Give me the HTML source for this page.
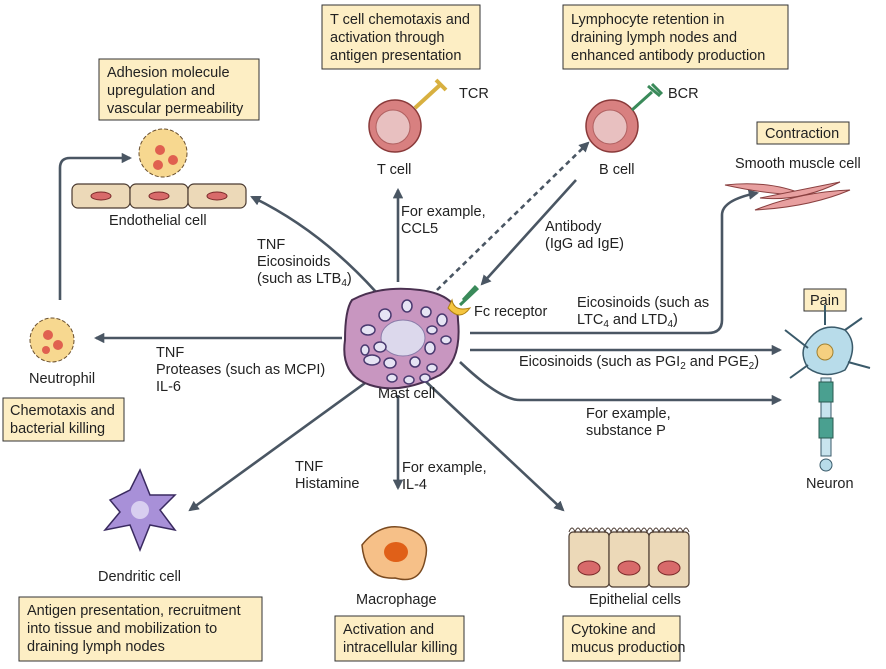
<!DOCTYPE html>
<html><head><meta charset="utf-8"><style>
body{margin:0;background:#fff;width:886px;height:669px;overflow:hidden}
svg{display:block}
text{font-family:"Liberation Sans",sans-serif;font-size:14.5px;fill:#222}
.box{fill:#fdeec4;stroke:#333;stroke-width:1}
.ar{stroke:#4a5663;stroke-width:2.6;fill:none}
</style></head><body>
<svg width="886" height="669" viewBox="0 0 886 669">
<defs>
<marker id="a" viewBox="0 0 10 10" refX="8" refY="5" markerWidth="4" markerHeight="4" orient="auto"><path d="M0,0L10,5L0,10z" fill="#4a5663"/></marker>
</defs>
<rect class="box" x="99" y="59" width="160" height="61"/>
<text x="107" y="77">Adhesion molecule</text><text x="107" y="95">upregulation and</text><text x="107" y="113">vascular permeability</text>
<rect class="box" x="322" y="5" width="158" height="64"/>
<text x="330" y="24">T cell chemotaxis and</text><text x="330" y="42">activation through</text><text x="330" y="60">antigen presentation</text>
<rect class="box" x="563" y="5" width="225" height="64"/>
<text x="571" y="24">Lymphocyte retention in</text><text x="571" y="42">draining lymph nodes and</text><text x="571" y="60">enhanced antibody production</text>
<rect class="box" x="757" y="122" width="92" height="22"/><text x="765" y="138">Contraction</text>
<rect class="box" x="804" y="289" width="42" height="22"/><text x="810" y="305">Pain</text>
<rect class="box" x="3" y="398" width="121" height="43"/><text x="10" y="415">Chemotaxis and</text><text x="10" y="433">bacterial killing</text>
<rect class="box" x="19" y="597" width="243" height="64"/>
<text x="27" y="615">Antigen presentation, recruitment</text><text x="27" y="633">into tissue and mobilization to</text><text x="27" y="651">draining lymph nodes</text>
<rect class="box" x="335" y="616" width="129" height="45"/><text x="343" y="634">Activation and</text><text x="343" y="652">intracellular killing</text>
<rect class="box" x="563" y="616" width="117" height="45"/><text x="571" y="634">Cytokine and</text><text x="571" y="652">mucus production</text>

<path class="ar" d="M398,282V190" marker-end="url(#a)"/>
<path class="ar" d="M376,292Q320,230 252,197" marker-end="url(#a)"/>
<path class="ar" d="M342,338H96" marker-end="url(#a)"/>
<path class="ar" d="M372,378L190,510" marker-end="url(#a)"/>
<path class="ar" d="M398,395V488" marker-end="url(#a)"/>
<path class="ar" d="M422,378L563,510" marker-end="url(#a)"/>
<path class="ar" d="M470,350H780" marker-end="url(#a)"/>
<path class="ar" d="M460,362Q500,400 520,400H780" marker-end="url(#a)"/>
<path class="ar" d="M470,333H708Q722,333 722,320V215Q722,200 757,193" marker-end="url(#a)"/>
<path d="M437,290L588,143" stroke="#4a5663" stroke-width="2.6" stroke-dasharray="5,4" fill="none" marker-end="url(#a)"/>
<path class="ar" d="M576,180L482,284" marker-end="url(#a)"/>
<path class="ar" d="M60,300V168Q60,158 70,158H130" marker-end="url(#a)"/>

<text x="401" y="216">For example,</text><text x="401" y="233">CCL5</text>
<text x="257" y="249">TNF</text><text x="257" y="266">Eicosinoids</text><text x="257" y="283">(such as LTB<tspan font-size="10" dy="3">4</tspan><tspan dy="-3">)</tspan></text>
<text x="156" y="357">TNF</text><text x="156" y="374">Proteases (such as MCPI)</text><text x="156" y="391">IL-6</text>
<text x="295" y="471">TNF</text><text x="295" y="488">Histamine</text>
<text x="402" y="472">For example,</text><text x="402" y="489">IL-4</text>
<text x="378" y="398">Mast cell</text>
<text x="545" y="231">Antibody</text><text x="545" y="248">(IgG ad IgE)</text>
<text x="474" y="316">Fc receptor</text>
<text x="577" y="307">Eicosinoids (such as</text><text x="577" y="324">LTC<tspan font-size="10" dy="3">4</tspan><tspan dy="-3"> and LTD</tspan><tspan font-size="10" dy="3">4</tspan><tspan dy="-3">)</tspan></text>
<text x="519" y="366">Eicosinoids (such as PGI<tspan font-size="10" dy="3">2</tspan><tspan dy="-3"> and PGE</tspan><tspan font-size="10" dy="3">2</tspan><tspan dy="-3">)</tspan></text>
<text x="586" y="418">For example,</text><text x="586" y="435">substance P</text>
<text x="377" y="174">T cell</text><text x="599" y="174">B cell</text>
<text x="459" y="98">TCR</text><text x="668" y="98">BCR</text>
<text x="735" y="168">Smooth muscle cell</text>
<text x="109" y="225">Endothelial cell</text>
<text x="29" y="383">Neutrophil</text>
<text x="806" y="488">Neuron</text>
<text x="98" y="581">Dendritic cell</text>
<text x="356" y="604">Macrophage</text>
<text x="589" y="604">Epithelial cells</text>

<path d="M352,300Q380,285 420,290Q458,295 458,320Q462,360 440,375Q400,395 370,385Q340,375 345,340Q345,310 352,300z" fill="#c896c0" stroke="#4a3050" stroke-width="2"/>
<ellipse cx="403" cy="338" rx="22" ry="18" fill="#dcd8ec" stroke="#8a7aa8"/>
<g fill="#e6e4f4" stroke="#4a3a70" stroke-width="1.5">
<ellipse cx="368" cy="330" rx="7" ry="5"/><ellipse cx="385" cy="315" rx="6" ry="6"/><ellipse cx="407" cy="306" rx="5" ry="6"/><ellipse cx="426" cy="312" rx="5" ry="5"/><ellipse cx="442" cy="320" rx="5" ry="6"/><ellipse cx="432" cy="330" rx="5" ry="4"/><ellipse cx="430" cy="348" rx="5" ry="6"/><ellipse cx="446" cy="340" rx="5" ry="4"/><ellipse cx="365" cy="350" rx="4" ry="5"/><ellipse cx="380" cy="347" rx="6" ry="5"/><ellipse cx="372" cy="360" rx="8" ry="5"/><ellipse cx="390" cy="363" rx="6" ry="5"/><ellipse cx="415" cy="362" rx="5" ry="5"/><ellipse cx="432" cy="368" rx="5" ry="4"/><ellipse cx="392" cy="378" rx="5" ry="4"/><ellipse cx="409" cy="380" rx="5" ry="4"/><ellipse cx="425" cy="378" rx="5" ry="4"/>
</g>
<path d="M452,300Q454,312 470,308Q460,322 448,308z" fill="#f5c540" stroke="#b08010"/>
<path d="M460,305L478,288M463,300L476,286" stroke="#3a8a5a" stroke-width="3"/>

<circle cx="395" cy="126" r="26" fill="#d88080" stroke="#8a3a3a" stroke-width="1.5"/>
<circle cx="393" cy="127" r="17" fill="#e8c0c0" stroke="#b06060"/>
<path d="M415,108L440,85" stroke="#d8b040" stroke-width="4"/><path d="M436,80L446,90" stroke="#d8b040" stroke-width="4"/>
<circle cx="612" cy="126" r="26" fill="#d88080" stroke="#8a3a3a" stroke-width="1.5"/>
<circle cx="610" cy="127" r="17" fill="#e8c0c0" stroke="#b06060"/>
<path d="M632,110L652,92M648,86L660,96M652,84L662,94" stroke="#3a8a5a" stroke-width="3"/>

<g fill="#ecd9b8" stroke="#4a3a30" stroke-width="1.2">
<rect x="72" y="184" width="58" height="24" rx="6"/><rect x="130" y="184" width="58" height="24" rx="6"/><rect x="188" y="184" width="58" height="24" rx="6"/>
</g>
<g fill="#d86a6a" stroke="#7a2a2a"><ellipse cx="101" cy="196" rx="10" ry="4"/><ellipse cx="159" cy="196" rx="10" ry="4"/><ellipse cx="217" cy="196" rx="10" ry="4"/></g>
<circle cx="163" cy="153" r="24" fill="#f7d890" stroke="#6a5030" stroke-dasharray="4,2"/>
<circle cx="160" cy="150" r="5" fill="#e06050"/><circle cx="173" cy="160" r="5" fill="#e06050"/><circle cx="158" cy="165" r="5" fill="#e06050"/>
<circle cx="52" cy="340" r="22" fill="#f7d890" stroke="#6a5030" stroke-dasharray="4,2"/>
<circle cx="48" cy="335" r="5" fill="#e06050"/><circle cx="58" cy="345" r="5" fill="#e06050"/><circle cx="46" cy="350" r="4" fill="#e06050"/>

<path d="M725,185Q770,180 805,195Q770,195 725,185z" fill="#e8a0a0" stroke="#8a4040"/>
<path d="M755,210Q800,192 850,190Q810,207 755,210z" fill="#e8a0a0" stroke="#8a4040"/>
<path d="M760,198Q800,190 840,182Q800,202 760,198z" fill="#e8a0a0" stroke="#8a4040"/>

<path d="M805,345Q820,320 845,330Q860,345 845,370Q825,380 808,368Q800,355 805,345z" fill="#b8dcea" stroke="#3a5a6a" stroke-width="1.5"/>
<path d="M808,348L785,330M808,365L790,378M845,330L862,318M848,362L870,368M825,325L825,305" stroke="#3a5a6a" stroke-width="2"/>
<circle cx="825" cy="352" r="8" fill="#f5d080" stroke="#a08030"/>
<rect x="821" y="378" width="10" height="78" fill="#c8e4ee" stroke="#3a5a6a"/>
<rect x="819" y="382" width="14" height="20" fill="#4aa090" stroke="#2a5a50"/><rect x="819" y="418" width="14" height="20" fill="#4aa090" stroke="#2a5a50"/>
<circle cx="826" cy="465" r="6" fill="#b8dcea" stroke="#3a5a6a"/>

<path d="M110,500L130,490L140,470L150,495L175,495L160,510L175,530L150,525L140,550L130,525L105,530L120,512z" fill="#a890d8" stroke="#3a2a60" stroke-width="1.5"/>
<circle cx="140" cy="510" r="9" fill="#d8cef0"/>
<path d="M362,545Q380,522 405,528Q432,535 425,560Q420,585 395,578Q365,580 362,545z" fill="#f6c088" stroke="#7a4a20" stroke-width="1.5"/>
<ellipse cx="396" cy="552" rx="12" ry="10" fill="#e06018"/>
<g fill="#ecd9b8" stroke="#4a3a30" stroke-width="1.2">
<rect x="569" y="532" width="40" height="55" rx="4"/><rect x="609" y="532" width="40" height="55" rx="4"/><rect x="649" y="532" width="40" height="55" rx="4"/>
</g>
<path d="M569,532q3,-8 6,0q3,-8 6,0q3,-8 6,0q3,-8 6,0q3,-8 6,0q3,-8 6,0q3,-8 6,0q3,-8 6,0q3,-8 6,0q3,-8 6,0q3,-8 6,0q3,-8 6,0q3,-8 6,0q3,-8 6,0q3,-8 6,0q3,-8 6,0q3,-8 6,0q3,-8 6,0q3,-8 6,0q3,-8 6,0" fill="none" stroke="#4a3a30"/>
<g fill="#d86a6a" stroke="#7a2a2a"><ellipse cx="589" cy="568" rx="11" ry="7"/><ellipse cx="629" cy="568" rx="11" ry="7"/><ellipse cx="669" cy="568" rx="11" ry="7"/></g>
</svg>
</body></html>
